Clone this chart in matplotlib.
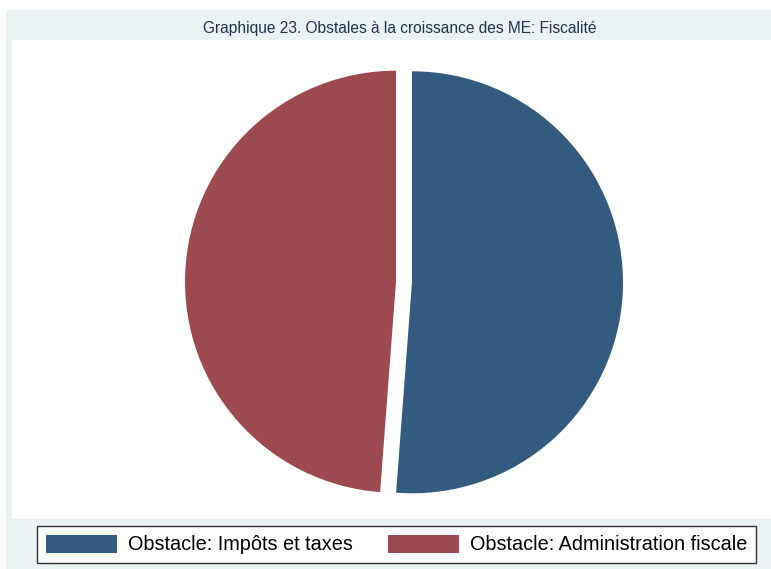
import matplotlib
matplotlib.use("Agg")
import matplotlib.pyplot as plt
from matplotlib.patches import Patch, Rectangle

plt.rcParams["font.family"] = ["Liberation Sans", "DejaVu Sans"]

# Anteile der beiden Hindernisse (in %)
kategorien = ["Obstacle: Impôts et taxes", "Obstacle: Administration fiscale"]
anteile = [51.2, 48.8]
farben = ["#335a7f", "#9c4a50"]

titel = "Graphique 23. Obstales à la croissance des ME: Fiscalité"

W, H = 771, 569
fig = plt.figure(figsize=(W / 100, H / 100), dpi=100, facecolor="white")

# hellgrauer Grafikbereich (Stata-Stil) und weisser Plotbereich
fig.patches.append(Rectangle((6 / W, 0), 1 - 6 / W, 1 - 10 / H,
                             transform=fig.transFigure, facecolor="#eaf2f3",
                             edgecolor="none", zorder=-5))
fig.patches.append(Rectangle((12 / W, (H - 519) / H), 1, (519 - 40) / H,
                             transform=fig.transFigure, facecolor="white",
                             edgecolor="none", zorder=-4))

ax = fig.add_axes([12 / W, (H - 519) / H, (W - 12) / W, (519 - 40) / H])
ax.set_zorder(1)

R = 211.0  # Radius in Pixeln, Achsen in Radius-Einheiten
cx, cy = 404, 282
ax.pie(anteile, colors=farben, startangle=90, counterclock=False,
       explode=[8 / R, 8 / R], radius=1.0,
       wedgeprops=dict(linewidth=0))
ax.set_xlim(-(cx - 12) / R, (W - cx) / R)
ax.set_ylim(-(519 - cy) / R, (cy - 40) / R)
ax.set_aspect("equal", adjustable="datalim")
ax.set_xticks([])
ax.set_yticks([])

fig.text(400 / W, 1 - 28 / H, titel, ha="center", va="center",
         fontsize=11.2, color="#24324c")

handles = [Patch(facecolor=c, edgecolor="none") for c in farben]
leg = fig.legend(handles, kategorien, loc="center",
                 bbox_to_anchor=(396.5 / W, 1 - 544.5 / H), ncol=2,
                 fontsize=14.3, handlelength=3.6, handleheight=1.05,
                 handletextpad=0.55, columnspacing=1.75, borderpad=0.45,
                 fancybox=False, frameon=True, edgecolor="#333333",
                 facecolor="white", framealpha=1)
leg.set_zorder(2)
leg.get_frame().set_linewidth(1.0)

fig.savefig("out.png", dpi=100, facecolor="white")
